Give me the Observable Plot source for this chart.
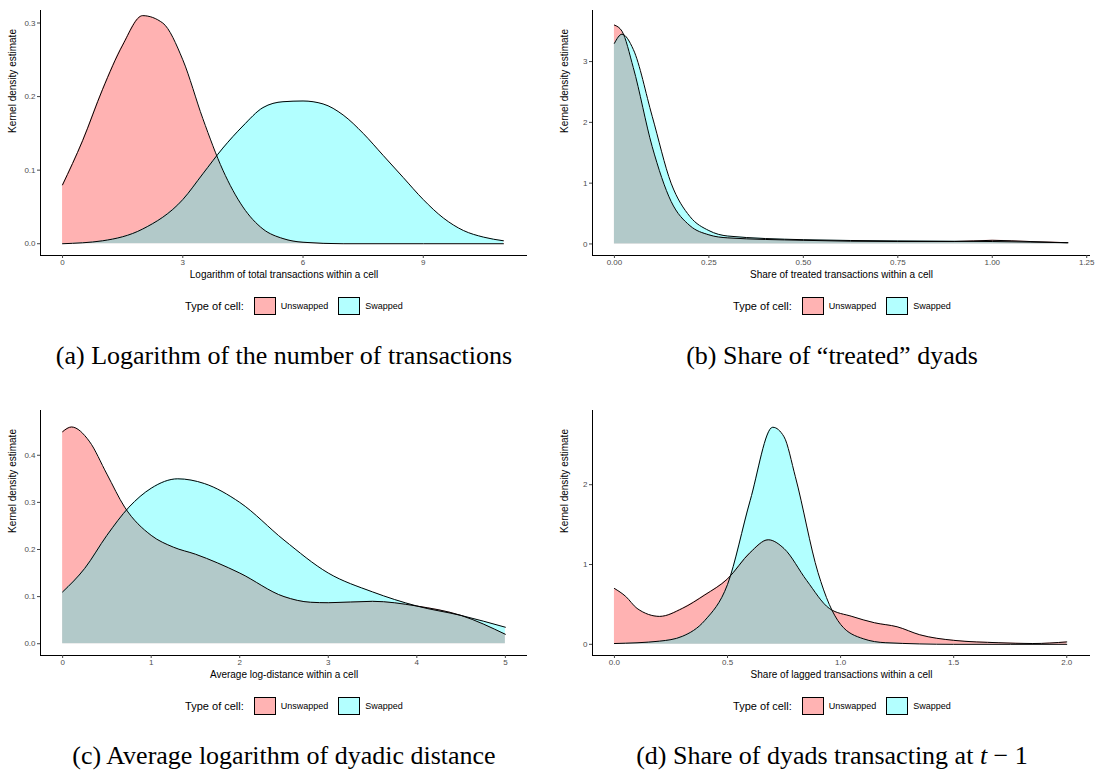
<!DOCTYPE html>
<html><head><meta charset="utf-8">
<script src="https://cdn.jsdelivr.net/npm/d3@7"></script>
<script src="https://cdn.jsdelivr.net/npm/@observablehq/plot@0.6"></script>
<style>
body{margin:0;background:#fff;font-family:"Liberation Sans",Arial,sans-serif;}
#grid{display:grid;grid-template-columns:548px 548px;width:1097px;}
.panel{position:relative;height:400px;}
.legend{display:flex;justify-content:center;align-items:center;font-size:9px;gap:5px;height:42px;margin-left:40px}
.sw{display:inline-block;width:20px;height:16px;border:1px solid #000;margin-left:5px}
.cap{text-align:center;font-family:"Liberation Serif","DejaVu Serif",serif;font-size:26px;margin-top:14px;padding-left:20px}
</style></head><body>
<div id="grid"></div>
<script>
// Panel (a)
const aUx=[0,0.5,1,1.5,2,2.5,3,3.5,4,4.5,5,5.5,6,7,11];
const aUy=[0.08,0.14,0.21,0.27,0.31,0.30,0.25,0.17,0.10,0.05,0.02,0.007,0.002,0,0];
const aSx=[0,1,2,3,3.5,4,4.5,5,5.5,6,6.5,7,7.5,8,8.5,9,9.5,10,10.5,11];
const aSy=[0,0.004,0.02,0.06,0.095,0.13,0.16,0.185,0.193,0.194,0.19,0.175,0.15,0.12,0.09,0.06,0.035,0.018,0.009,0.004];
// Panel (b)
const bUx=[0,0.02,0.05,0.1,0.15,0.2,0.25,0.3,0.5,0.75,0.9,1.0,1.1,1.2];
const bUy=[3.6,3.5,2.9,1.6,0.7,0.3,0.15,0.1,0.06,0.04,0.04,0.06,0.04,0.02];
const bSx=[0,0.02,0.05,0.1,0.15,0.2,0.25,0.3,0.5,0.75,1.0,1.2];
const bSy=[3.3,3.45,3.2,2.1,1.0,0.45,0.22,0.13,0.07,0.05,0.04,0.02];
// Panel (c)
const cUx=[0,0.1,0.3,0.5,0.7,1,1.25,1.5,2,2.5,2.8,3,3.5,4,4.5,5];
const cUy=[0.45,0.46,0.43,0.36,0.29,0.23,0.205,0.19,0.15,0.1,0.088,0.087,0.09,0.08,0.06,0.02];
const cSx=[0,0.25,0.5,0.75,1,1.3,1.6,2,2.5,3,3.5,4,4.5,5];
const cSy=[0.11,0.16,0.23,0.29,0.33,0.35,0.34,0.3,0.22,0.15,0.11,0.08,0.06,0.035];
// Panel (d)
const dUx=[0,0.05,0.1,0.2,0.3,0.4,0.5,0.6,0.68,0.75,0.85,0.95,1.05,1.15,1.25,1.35,1.5,1.7,1.85,2];
const dUy=[0.7,0.6,0.45,0.35,0.45,0.62,0.82,1.15,1.31,1.2,0.8,0.45,0.35,0.27,0.22,0.12,0.05,0.02,0.01,0.03];
const dSx=[0,0.2,0.3,0.4,0.5,0.6,0.7,0.75,0.8,0.9,0.95,1.0,1.1,1.2,1.5,2];
const dSy=[0.01,0.04,0.1,0.3,0.75,1.8,2.72,2.6,2.1,0.9,0.5,0.25,0.07,0.02,0,0];

const panels=[
 {ux:aUx,uy:aUy,sx:aSx,sy:aSy,xd:[-0.55,11.6],yd:[-0.016,0.317],xt:[0,3,6,9],yt:[0,0.1,0.2,0.3],xf:d3.format("d"),yf:d3.format(".1f"),xl:"Logarithm of total transactions within a cell",cap:"(a) Logarithm of the number of transactions"},
 {ux:bUx,uy:bUy,sx:bSx,sy:bSy,xd:[-0.058,1.26],yd:[-0.19,3.84],xt:[0,0.25,0.5,0.75,1,1.25],yt:[0,1,2,3],xf:d3.format(".2f"),yf:d3.format("d"),xl:"Share of treated transactions within a cell",cap:"(b) Share of “treated” dyads"},
 {ux:cUx,uy:cUy,sx:cSx,sy:cSy,xd:[-0.25,5.25],yd:[-0.025,0.495],xt:[0,1,2,3,4,5],yt:[0,0.1,0.2,0.3,0.4],xf:d3.format("d"),yf:d3.format(".1f"),xl:"Average log-distance within a cell",cap:"(c) Average logarithm of dyadic distance"},
 {ux:dUx,uy:dUy,sx:dSx,sy:dSy,xd:[-0.097,2.105],yd:[-0.14,2.93],xt:[0,0.5,1,1.5,2],yt:[0,1,2],xf:d3.format(".1f"),yf:d3.format("d"),xl:"Share of lagged transactions within a cell",cap:"(d) Share of dyads transacting at <i>t</i> − 1"}
];
const grid=document.getElementById("grid");
panels.forEach((p,i)=>{
  const U=p.ux.map((x,k)=>({x,y:p.uy[k]}));
  const S=p.sx.map((x,k)=>({x,y:p.sy[k]}));
  const div=document.createElement("div");div.className="panel";
  const left=i%2?44:40;
  const plot=Plot.plot({
    width:548,height:285,marginLeft:left,marginRight:548-left-(i%2?498:487),marginTop:10,marginBottom:30,
    style:{fontFamily:"Liberation Sans,Arial,sans-serif",fontSize:"8px",color:"#444"},
    x:{domain:p.xd,ticks:p.xt,tickFormat:p.xf,label:null},
    y:{domain:p.yd,ticks:p.yt,tickFormat:p.yf,label:null},
    marks:[
      Plot.areaY(U,{x:"x",y:"y",fill:"red",fillOpacity:0.3,curve:"monotone-x"}),
      Plot.areaY(S,{x:"x",y:"y",fill:"cyan",fillOpacity:0.3,curve:"monotone-x"}),
      Plot.lineY(U,{x:"x",y:"y",stroke:"#000",strokeWidth:1,curve:"monotone-x"}),
      Plot.lineY(S,{x:"x",y:"y",stroke:"#000",strokeWidth:1,curve:"monotone-x"}),
      Plot.ruleX([p.xd[0]],{stroke:"#000"}),
      Plot.ruleY([p.yd[0]],{stroke:"#000"}),
      Plot.axisX({ticks:p.xt,tickFormat:p.xf,tickSize:3,tickPadding:1,label:null,fill:"#4d4d4d"}),
      Plot.axisY({ticks:p.yt,tickFormat:p.yf,tickSize:3,tickPadding:2,label:null,fill:"#4d4d4d"}),
      Plot.text([p.xl],{frameAnchor:"bottom",dy:22,fontSize:10,fill:"#000"}),
      Plot.text(["Kernel density estimate"],{frameAnchor:"left",dx:-28,rotate:-90,fontSize:10,fill:"#000"})
    ]
  });
  div.appendChild(plot);
  const lg=document.createElement("div");lg.className="legend";
  lg.innerHTML='<span style="font-size:11px">Type of cell:</span><span class="sw" style="background:rgb(255,179,179)"></span><span>Unswapped</span><span class="sw" style="background:rgb(179,255,255)"></span><span>Swapped</span>';
  div.appendChild(lg);
  const cap=document.createElement("div");cap.className="cap";cap.innerHTML=p.cap;div.appendChild(cap);
  grid.appendChild(div);
});
</script>
</body></html>
